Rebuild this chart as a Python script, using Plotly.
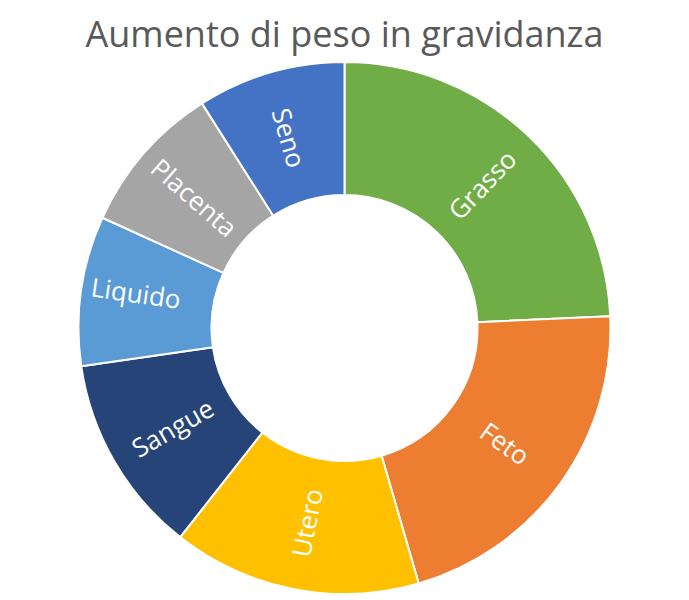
import plotly.graph_objects as go

labels = ['Grasso', 'Feto', 'Utero', 'Sangue', 'Liquido', 'Placenta', 'Seno']
values = [24.3, 21.2, 15.1, 12.1, 9.1, 9.2, 9.0]
colors = ['#70AD47', '#ED7D31', '#FFC000', '#264478', '#5B9BD5', '#A5A5A5', '#4472C4']

# invisible padding lines keep plotly from laying 'Liquido' flat on the 9 o'clock axis
pad = "<span style='color:rgba(0,0,0,0);font-size:12px'>.</span>"
texts = [pad + '<br>' + l + '<br>' + pad if l == 'Liquido' else l for l in labels]

fig = go.Figure(go.Pie(
    labels=labels, values=values, text=texts, hole=0.5, sort=False,
    direction='clockwise', rotation=0,
    marker=dict(colors=colors, line=dict(color='white', width=2)),
    textinfo='text', insidetextorientation='radial',
    textfont=dict(color='white', size=26, family='Open Sans'),
    hoverinfo='label+value',
))
fig.update_layout(
    width=681, height=592,
    title=dict(text='Aumento di peso in gravidanza', xref='paper', x=0.5, xanchor='center',
               y=0.955, yanchor='middle',
               font=dict(size=36, color='#595959', family='Open Sans')),
    showlegend=False,
    margin=dict(l=0, r=8, t=54, b=6),
    paper_bgcolor='white',
)
fig.write_html("out.html")
